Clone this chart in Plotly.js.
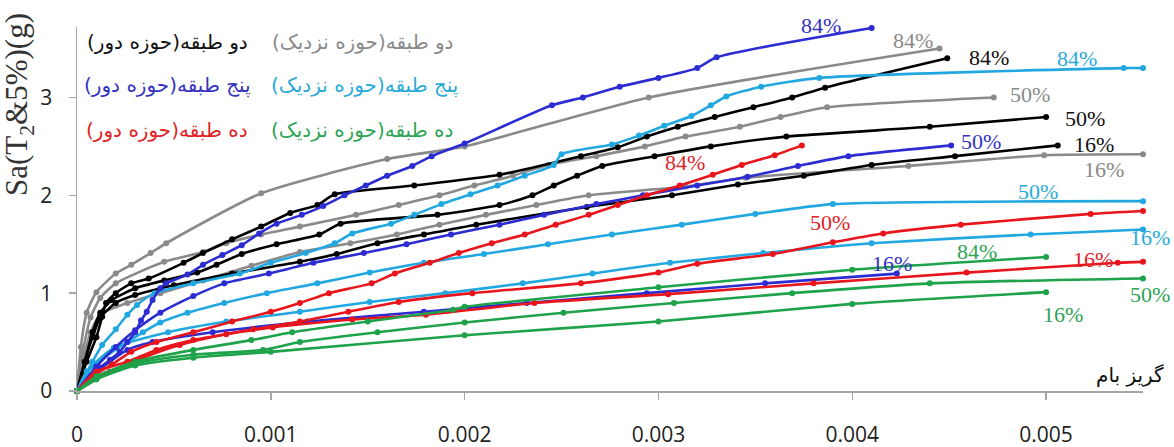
<!DOCTYPE html>
<html>
<head>
<meta charset="utf-8">
<script src="https://cdn.plot.ly/plotly-3.0.1.min.js"></script>
<style>html,body{margin:0;padding:0;background:#fff;}#chart{width:1174px;height:447px;}</style>
</head>
<body>
<div id="chart"></div>
<script>
// ---- data (roof drift ratio vs Sa) ----
const xTickVals = [0, 0.001, 0.002, 0.003, 0.004, 0.005];
const xTickText = ['0', '0.001', '0.002', '0.003', '0.004', '0.005'];
const yTickVals = [0, 1, 2, 3];
const yTickText = ['0', '1', '2', '3'];

// two-story, near field (gray)
const gray84X = [0, 0.00002, 0.00005, 0.0001, 0.0002, 0.00028, 0.00038, 0.00046, 0.00095, 0.0016, 0.002, 0.00295, 0.00445];
const gray84Y = [0, 0.45, 0.8, 1.01, 1.2, 1.29, 1.41, 1.51, 2.02, 2.37, 2.5, 3.0, 3.5];
const gray50X = [0, 0.00003, 0.00007, 0.00012, 0.0002, 0.00045, 0.00065, 0.00077, 0.00095, 0.00115, 0.00144, 0.00166, 0.00187, 0.00205, 0.00225, 0.00243, 0.00268, 0.00293, 0.00314, 0.00342, 0.00363, 0.00387, 0.00473];
const gray50Y = [0, 0.4, 0.75, 0.95, 1.1, 1.32, 1.42, 1.51, 1.6, 1.68, 1.8, 1.9, 2.0, 2.1, 2.2, 2.31, 2.4, 2.5, 2.6, 2.7, 2.8, 2.9, 3.0];
const gray16X = [0, 0.00003, 0.00007, 0.00012, 0.00026, 0.00043, 0.00065, 0.0009, 0.00115, 0.00141, 0.00165, 0.00187, 0.00211, 0.00237, 0.00264, 0.00314, 0.00345, 0.00429, 0.00499, 0.0055];
const gray16Y = [0, 0.3, 0.6, 0.78, 0.9, 1.0, 1.13, 1.28, 1.42, 1.51, 1.6, 1.7, 1.8, 1.9, 2.0, 2.09, 2.18, 2.3, 2.41, 2.42];

// two-story, far field (black)
const black84X = [0, 0.00005, 0.0001, 0.00013, 0.00015, 0.0002, 0.00028, 0.00037, 0.00055, 0.00065, 0.0008, 0.00095, 0.0011, 0.00124, 0.00133, 0.00174, 0.00218, 0.0026, 0.00279, 0.00294, 0.0031, 0.00329, 0.00349, 0.00369, 0.00386, 0.00449];
const black84Y = [0, 0.3, 0.55, 0.76, 0.9, 1.0, 1.1, 1.15, 1.31, 1.41, 1.55, 1.68, 1.82, 1.9, 2.01, 2.1, 2.21, 2.4, 2.49, 2.6, 2.7, 2.8, 2.9, 3.0, 3.1, 3.4];
const black50X = [0, 0.00004, 0.00008, 0.00012, 0.00018, 0.0003, 0.00045, 0.00062, 0.00072, 0.00085, 0.00103, 0.00125, 0.00136, 0.00186, 0.00218, 0.00235, 0.00246, 0.00258, 0.00271, 0.00298, 0.00327, 0.00366, 0.0044, 0.005];
const black50Y = [0, 0.3, 0.6, 0.8, 0.93, 1.05, 1.13, 1.21, 1.29, 1.4, 1.5, 1.6, 1.71, 1.8, 1.9, 2.0, 2.1, 2.2, 2.3, 2.4, 2.5, 2.6, 2.7, 2.8];
const black16X = [0, 0.00004, 0.00008, 0.00012, 0.0002, 0.0003, 0.0005, 0.0008, 0.00115, 0.00134, 0.00155, 0.00179, 0.00206, 0.00263, 0.00307, 0.00341, 0.00375, 0.0041, 0.00453, 0.00506];
const black16Y = [0, 0.3, 0.55, 0.75, 0.9, 0.98, 1.08, 1.2, 1.32, 1.4, 1.51, 1.6, 1.7, 1.88, 2.0, 2.11, 2.2, 2.31, 2.4, 2.51];

// five-story, near field (light blue)
const lblue84X = [0, 0.00008, 0.00013, 0.0002, 0.00026, 0.00031, 0.0004, 0.0006, 0.00084, 0.001, 0.00118, 0.00133, 0.00142, 0.00162, 0.00174, 0.00188, 0.00203, 0.00217, 0.00231, 0.00246, 0.0025, 0.00276, 0.0029, 0.00303, 0.00317, 0.00327, 0.00335, 0.00353, 0.00383, 0.0054, 0.0055];
const lblue84Y = [0, 0.3, 0.47, 0.63, 0.78, 0.88, 1.0, 1.1, 1.2, 1.31, 1.41, 1.51, 1.61, 1.71, 1.8, 1.91, 2.01, 2.1, 2.2, 2.31, 2.42, 2.52, 2.61, 2.71, 2.81, 2.92, 3.01, 3.11, 3.2, 3.3, 3.3];
const lblue50X = [0, 0.00008, 0.00026, 0.00034, 0.00043, 0.00057, 0.00076, 0.00098, 0.00124, 0.00151, 0.00179, 0.0021, 0.00243, 0.00276, 0.00312, 0.0035, 0.0039, 0.0055];
const lblue50Y = [0, 0.25, 0.5, 0.6, 0.7, 0.8, 0.9, 1.0, 1.1, 1.21, 1.31, 1.4, 1.5, 1.6, 1.7, 1.81, 1.91, 1.94];
const lblue16X = [0, 0.00005, 0.00019, 0.00047, 0.00077, 0.00115, 0.00151, 0.0019, 0.0023, 0.00266, 0.00306, 0.00354, 0.0041, 0.00492, 0.0055];
const lblue16Y = [0, 0.2, 0.44, 0.6, 0.71, 0.81, 0.91, 1.0, 1.1, 1.2, 1.31, 1.41, 1.51, 1.6, 1.65];

// five-story, far field (blue)
const blue84X = [0, 0.00007, 0.00012, 0.00017, 0.00022, 0.00026, 0.0003, 0.00033, 0.00036, 0.00039, 0.00043, 0.00046, 0.00057, 0.00065, 0.00075, 0.00085, 0.00094, 0.00103, 0.00116, 0.00127, 0.00138, 0.00149, 0.0016, 0.00173, 0.00183, 0.002, 0.00245, 0.00261, 0.0028, 0.003, 0.0032, 0.0033, 0.0041];
const blue84Y = [0, 0.14, 0.24, 0.32, 0.4, 0.5, 0.6, 0.72, 0.81, 0.93, 1.05, 1.1, 1.19, 1.29, 1.39, 1.49, 1.61, 1.71, 1.8, 1.89, 2.0, 2.1, 2.2, 2.3, 2.4, 2.53, 2.92, 3.0, 3.11, 3.2, 3.3, 3.41, 3.71];
const blue50X = [0, 0.0001, 0.0002, 0.0003, 0.00043, 0.0006, 0.00076, 0.00099, 0.00122, 0.00148, 0.0017, 0.00193, 0.00218, 0.00241, 0.00268, 0.00292, 0.0032, 0.00346, 0.00372, 0.00398, 0.00451];
const blue50Y = [0, 0.25, 0.45, 0.62, 0.8, 0.97, 1.1, 1.2, 1.31, 1.41, 1.5, 1.6, 1.7, 1.8, 1.91, 2.0, 2.1, 2.19, 2.3, 2.4, 2.51];
const blue16X = [0, 0.00007, 0.00017, 0.00026, 0.00039, 0.0007, 0.00119, 0.00179, 0.00232, 0.00294, 0.00355, 0.00423];
const blue16Y = [0, 0.15, 0.3, 0.42, 0.5, 0.6, 0.71, 0.81, 0.9, 1.0, 1.1, 1.2];

// ten-story, far field (red)
const red84X = [0, 0.00008, 0.00018, 0.00028, 0.00041, 0.0006, 0.0008, 0.001, 0.00115, 0.0013, 0.00152, 0.00164, 0.00182, 0.00197, 0.00214, 0.00231, 0.00247, 0.00264, 0.00279, 0.00294, 0.00311, 0.00328, 0.00343, 0.0036, 0.00374];
const red84Y = [0, 0.15, 0.27, 0.4, 0.5, 0.6, 0.71, 0.81, 0.9, 1.0, 1.1, 1.2, 1.31, 1.41, 1.51, 1.6, 1.7, 1.8, 1.9, 2.0, 2.1, 2.21, 2.31, 2.41, 2.51];
const red50X = [0, 0.0001, 0.00026, 0.00041, 0.0006, 0.00091, 0.00115, 0.0014, 0.00166, 0.00204, 0.0026, 0.003, 0.0032, 0.00359, 0.0039, 0.00416, 0.00456, 0.00523, 0.0055];
const red50Y = [0, 0.2, 0.3, 0.42, 0.52, 0.63, 0.71, 0.81, 0.91, 1.0, 1.1, 1.21, 1.3, 1.4, 1.52, 1.61, 1.7, 1.81, 1.84];
const red16X = [0, 0.00017, 0.00034, 0.00053, 0.00077, 0.00101, 0.00142, 0.0018, 0.00236, 0.00305, 0.0038, 0.00459, 0.00537, 0.0055];
const red16Y = [0, 0.2, 0.34, 0.47, 0.58, 0.65, 0.73, 0.78, 0.9, 0.99, 1.1, 1.21, 1.31, 1.32];

// ten-story, near field (green)
const green84X = [0, 0.0001, 0.0003, 0.0006, 0.0009, 0.00111, 0.0015, 0.00194, 0.002, 0.003, 0.004, 0.005];
const green84Y = [0, 0.15, 0.3, 0.42, 0.52, 0.6, 0.71, 0.83, 0.86, 1.06, 1.24, 1.37];
const green50X = [0, 0.0001, 0.0003, 0.0006, 0.00096, 0.00115, 0.00155, 0.002, 0.00251, 0.00308, 0.00369, 0.0044, 0.0055];
const green50Y = [0, 0.12, 0.28, 0.37, 0.42, 0.5, 0.6, 0.7, 0.8, 0.9, 1.0, 1.1, 1.15];
const green16X = [0, 0.0001, 0.0003, 0.0006, 0.001, 0.002, 0.003, 0.004, 0.005];
const green16Y = [0, 0.12, 0.26, 0.34, 0.4, 0.57, 0.71, 0.89, 1.01];

// curve labels (data units)
const labelText = ['84%', '84%', '84%', '84%', '50%', '50%', '16%', '16%', '50%', '84%', '50%', '50%', '16%', '84%', '16%', '16%', '50%', '16%'];
const labelX = [0.003839, 0.004314, 0.004706, 0.00516, 0.004917, 0.005201, 0.005248, 0.005299, 0.004665, 0.003137, 0.004959, 0.003885, 0.005537, 0.004644, 0.004205, 0.005243, 0.005537, 0.005088];
const labelY = [3.74, 3.587, 3.413, 3.403, 3.026, 2.79, 2.515, 2.26, 2.546, 2.332, 2.035, 1.719, 1.566, 1.423, 1.301, 1.342, 0.985, 0.78];
const labelSeries = ['blue', 'gray', 'black', 'lblue', 'gray', 'black', 'black', 'gray', 'blue', 'red', 'lblue', 'red', 'lblue', 'green', 'blue', 'red', 'green', 'green'];

// legend texts
const legendText = ['دو طبقه(حوزه دور)', 'دو طبقه(حوزه نزدیک)', 'پنج طبقه(حوزه دور)', 'پنج طبقه(حوزه نزدیک)', 'ده طبقه(حوزه دور)', 'ده طبقه(حوزه نزدیک)'];
const legendSeries = ['black', 'gray', 'blue', 'lblue', 'red', 'green'];

const yTitle = 'Sa(T<sub>2</sub>&amp;5%)(g)';
const xNote = 'گریز بام';

// ---- styles ----
const X_MAX = 0.0055, Y_MAX = 3.72;
const lineColor = {gray: '#8a8a8a', black: '#000000', lblue: '#22a8e0', blue: '#2c2cd2', red: '#e8161c', green: '#1ea24a'};
const textColor = {gray: '#8a8a8a', black: '#111111', lblue: '#2aaad8', blue: '#3434c0', red: '#e02328', green: '#2ea456'};

const series = [
  ['gray', gray84X, gray84Y], ['gray', gray50X, gray50Y], ['gray', gray16X, gray16Y],
  ['black', black84X, black84Y], ['black', black50X, black50Y], ['black', black16X, black16Y],
  ['lblue', lblue84X, lblue84Y], ['lblue', lblue50X, lblue50Y], ['lblue', lblue16X, lblue16Y],
  ['blue', blue84X, blue84Y], ['blue', blue50X, blue50Y], ['blue', blue16X, blue16Y],
  ['red', red84X, red84Y], ['red', red50X, red50Y], ['red', red16X, red16Y],
  ['green', green84X, green84Y], ['green', green50X, green50Y], ['green', green16X, green16Y]
];

const traces = series.map(s => ({
  type: 'scatter', mode: 'lines+markers', x: s[1], y: s[2],
  line: {color: lineColor[s[0]], width: 2.6, shape: 'spline', smoothing: 0.6},
  marker: {color: lineColor[s[0]], size: 6},
  cliponaxis: false, showlegend: false, hoverinfo: 'x+y'
}));

const L = 77, T = 27, W = 1066, H = 364;
const px = v => (v - L) / W;
const py = v => (T + H - v) / H;

const annotations = [];
labelText.forEach((t, i) => annotations.push({
  x: labelX[i] / X_MAX, y: labelY[i] / Y_MAX, xref: 'paper', yref: 'paper', text: t, showarrow: false,
  xanchor: 'center', yanchor: 'middle',
  font: {family: 'Liberation Serif, Times New Roman, serif', size: 22, color: textColor[labelSeries[i]]}
}));

const legRight = [250, 455, 253, 460, 250, 455];
const legRow = [42, 42, 85, 85, 130, 130];
legendText.forEach((t, i) => annotations.push({
  x: px(legRight[i]), y: py(legRow[i]), xref: 'paper', yref: 'paper',
  text: '\u200F' + t + '\u200F', showarrow: false, xanchor: 'right', yanchor: 'middle',
  font: {family: 'DejaVu Sans, sans-serif', size: 20, color: textColor[legendSeries[i]]}
}));

annotations.push({
  x: px(19), y: py(105), xref: 'paper', yref: 'paper', text: yTitle, showarrow: false,
  textangle: -90, xanchor: 'center', yanchor: 'middle',
  font: {family: 'Liberation Serif, Times New Roman, serif', size: 31, color: '#333'}
});
annotations.push({
  x: px(1130), y: py(375), xref: 'paper', yref: 'paper', text: '\u200F' + xNote + '\u200F', showarrow: false,
  xanchor: 'center', yanchor: 'middle',
  font: {family: 'DejaVu Sans, sans-serif', size: 20, color: '#111'}
});

const layout = {
  width: 1174, height: 447,
  margin: {l: L, r: 1174 - L - W, t: T, b: 447 - T - H, pad: 0},
  paper_bgcolor: '#fff', plot_bgcolor: '#fff',
  showlegend: false,
  xaxis: {
    range: [0, X_MAX], showgrid: false, zeroline: false,
    showline: true, linecolor: '#a6a6a6', linewidth: 1.5,
    ticks: 'outside', ticklen: 7, tickwidth: 1.5, tickcolor: '#a6a6a6',
    tickvals: xTickVals, ticktext: xTickText, ticklabelstandoff: 17,
    tickfont: {family: 'Open Sans, sans-serif', size: 21, color: '#222'}
  },
  yaxis: {
    range: [0, Y_MAX], showgrid: false, zeroline: false,
    showline: true, linecolor: '#a6a6a6', linewidth: 1.5,
    ticks: 'outside', ticklen: 7, tickwidth: 1.5, tickcolor: '#a6a6a6',
    tickvals: yTickVals, ticktext: yTickText, ticklabelstandoff: 12,
    tickfont: {family: 'Open Sans, sans-serif', size: 21, color: '#222'}
  },
  annotations: annotations
};

Plotly.newPlot('chart', traces, layout, {displayModeBar: false, staticPlot: true});
</script>
</body>
</html>
